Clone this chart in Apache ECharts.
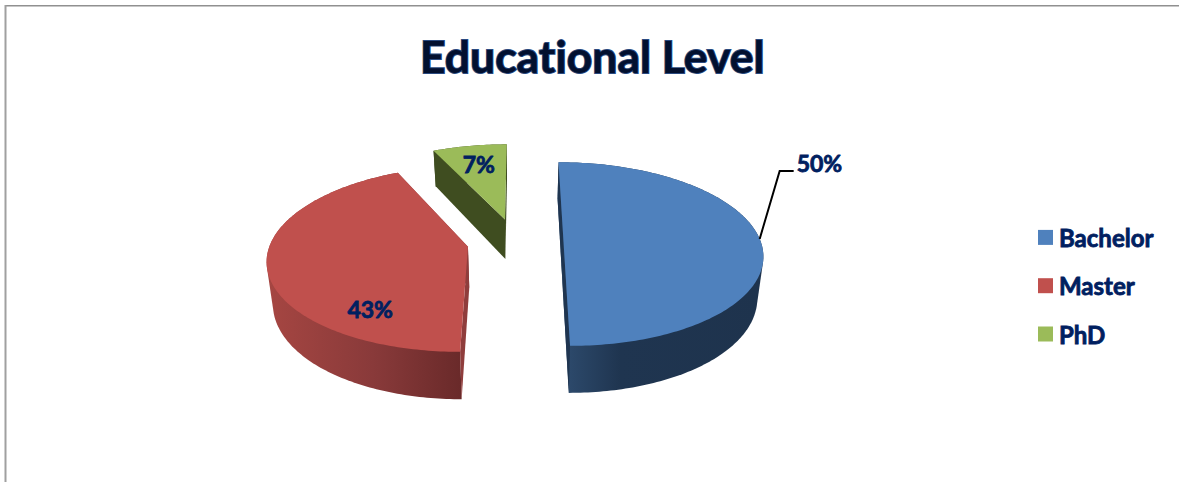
<!DOCTYPE html>
<html>
<head>
<meta charset="utf-8">
<title>Educational Level</title>
<style>
  html, body { margin: 0; padding: 0; background: #fff; }
  #chart { width: 1179px; height: 482px; }
  #chart text { font-variant-ligatures: none; }
</style>
<script src="https://cdn.jsdelivr.net/npm/echarts@6/dist/echarts.min.js"></script>
</head>
<body>
<div id="chart"></div>
<script>
// Share of respondents by educational level, in percent
const categories = ['Bachelor', 'Master', 'PhD'];
const shares = [50, 43, 7];

// Slice colours: top face, rim gradient stops, cut face
const topColors = ['#4f81bd', '#c0504d', '#9bbb59'];
const rimStops = [
  [[0, '#2f4d70'], [0.3, '#1f3550'], [1, '#1e334d']],
  [[0, '#a64642'], [0.55, '#893a3a'], [1, '#6a2a2a']],
  [[0, '#3f4d20'], [1, '#3f4d20']]
];
const cutColors = ['#1f3550', '#8f3d3c', '#3f4d20'];

// Perspective of the tilted disc
const VIEW = { vx: 520, y0: 243, rx: 197.6, ry: 90.5, persp: 0.13, depth: 41, shrink: 0.975 };
const START_ANGLE = 0;
// How far each slice is pulled out of the pie, in radii
const EXPLODE = [[0.2206, 0.01], [-0.262, -0.04], [-0.0786, 0.27]];
// Label placement: polar position inside the slice, or a leader line out of the rim
const LABELS = [
  { angle: 88, radius: 1, elbow: [20, -68], tail: 14 },
  { angle: 214.5, radius: 0.76 },
  { angle: 347.6, radius: 0.73 }
];
const NAVY = '#002060';
const FONT = 'Lato, "Open Sans", sans-serif';

function project(X, Y, bottom) {
  const s = 1 / (1 + VIEW.persp * Y);
  let x = VIEW.vx + VIEW.rx * X * s;
  let y = VIEW.y0 - VIEW.ry * Y * s;
  if (bottom) {
    x = VIEW.vx + (x - VIEW.vx) * VIEW.shrink;
    y += VIEW.depth * s;
  }
  return [x, y];
}

function rad(deg) { return deg * Math.PI / 180; }

function rimPoint(i, deg, r, bottom) {
  const e = EXPLODE[i];
  return project(e[0] + r * Math.sin(rad(deg)), e[1] + r * Math.cos(rad(deg)), bottom);
}

function sliceRange(i) {
  const total = shares.reduce((a, b) => a + b, 0);
  const before = shares.slice(0, i).reduce((a, b) => a + b, 0);
  return [START_ANGLE + before / total * 360, START_ANGLE + (before + shares[i]) / total * 360];
}

// Convex outline of the rim, so its edge follows the tangent between both faces
function convexHull(points) {
  const pts = points.slice().sort((a, b) => a[0] - b[0] || a[1] - b[1]);
  const cross = (o, a, b) => (a[0] - o[0]) * (b[1] - o[1]) - (a[1] - o[1]) * (b[0] - o[0]);
  const half = list => {
    const out = [];
    list.forEach(p => {
      while (out.length > 1 && cross(out[out.length - 2], out[out.length - 1], p) <= 0) out.pop();
      out.push(p);
    });
    out.pop();
    return out;
  };
  return half(pts).concat(half(pts.slice().reverse()));
}

function makeSlice(i, value) {
  const [a0, a1] = sliceRange(i);
  const top = [], low = [];
  const steps = Math.max(2, Math.ceil(a1 - a0));
  for (let k = 0; k <= steps; k++) {
    const a = a0 + (a1 - a0) * k / steps;
    top.push(rimPoint(i, a, 1, false));
    low.push(rimPoint(i, a, 1, true));
  }
  const apexTop = rimPoint(i, 0, 0, false);
  const apexLow = rimPoint(i, 0, 0, true);
  const xs = top.map(p => p[0]);
  const rimFill = new echarts.graphic.LinearGradient(
    Math.min.apply(null, xs), 0, Math.max.apply(null, xs), 0,
    rimStops[i].map(s => ({ offset: s[0], color: s[1] })), true);

  const children = [
    { type: 'polygon', shape: { points: convexHull(top.concat(low)) }, style: { fill: rimFill } },
    { type: 'polygon', shape: { points: [top[0], apexTop, apexLow, low[0]] }, style: { fill: cutColors[i] } },
    { type: 'polygon', shape: { points: [top[steps], apexTop, apexLow, low[steps]] }, style: { fill: cutColors[i] } },
    { type: 'polygon', shape: { points: [apexTop].concat(top) }, style: { fill: topColors[i] } }
  ];

  const lab = LABELS[i];
  const anchor = rimPoint(i, lab.angle, lab.radius, false);
  let tx = anchor[0], ty = anchor[1], align = 'center';
  if (lab.elbow) {
    const knee = [anchor[0] + lab.elbow[0], anchor[1] + lab.elbow[1]];
    const end = [knee[0] + lab.tail, knee[1]];
    children.push({
      type: 'polyline',
      shape: { points: [anchor, knee, end] },
      style: { stroke: '#000', lineWidth: 2, fill: null }
    });
    tx = end[0] + 3;
    ty = knee[1] - 8;
    align = 'left';
  }
  children.push({
    type: 'text',
    style: {
      x: tx, y: ty, text: value + '%', fill: NAVY,
      stroke: NAVY, lineWidth: 0.8,
      font: '700 23px ' + FONT, align: align, verticalAlign: 'middle'
    }
  });
  return { type: 'group', children: children };
}

const chart = echarts.init(document.getElementById('chart'), null, { renderer: 'svg' });
chart.setOption({
  animation: false,
  backgroundColor: '#ffffff',
  title: {
    text: 'Educational Level',
    left: 415,
    top: 28,
    textStyle: {
      fontFamily: FONT, fontWeight: 700, fontSize: 44.5, color: '#02102f',
      textBorderColor: '#2a4a80', textBorderWidth: 1.8
    }
  },
  legend: {
    orient: 'vertical',
    left: 1033,
    top: 220,
    itemWidth: 15,
    itemHeight: 15,
    itemGap: 23.5,
    icon: 'rect',
    data: categories,
    textStyle: {
      fontFamily: FONT, fontWeight: 700, fontSize: 24, color: NAVY,
      textBorderColor: NAVY, textBorderWidth: 0.8, padding: [0, 0, 0, 1]
    }
  },
  graphic: [
    { type: 'rect', shape: { x: 5, y: 5, width: 1174, height: 1.5 }, style: { fill: '#909090' } },
    { type: 'rect', shape: { x: 4.5, y: 5, width: 2, height: 477 }, style: { fill: '#a0a0a0' } }
  ],
  series: categories.map((name, i) => ({
    type: 'custom',
    name: name,
    coordinateSystem: 'none',
    silent: true,
    itemStyle: { color: topColors[i] },
    data: [{ name: name, value: [shares[i]] }],
    renderItem: (params, api) => makeSlice(i, api.value(0))
  }))
});
</script>
</body>
</html>
